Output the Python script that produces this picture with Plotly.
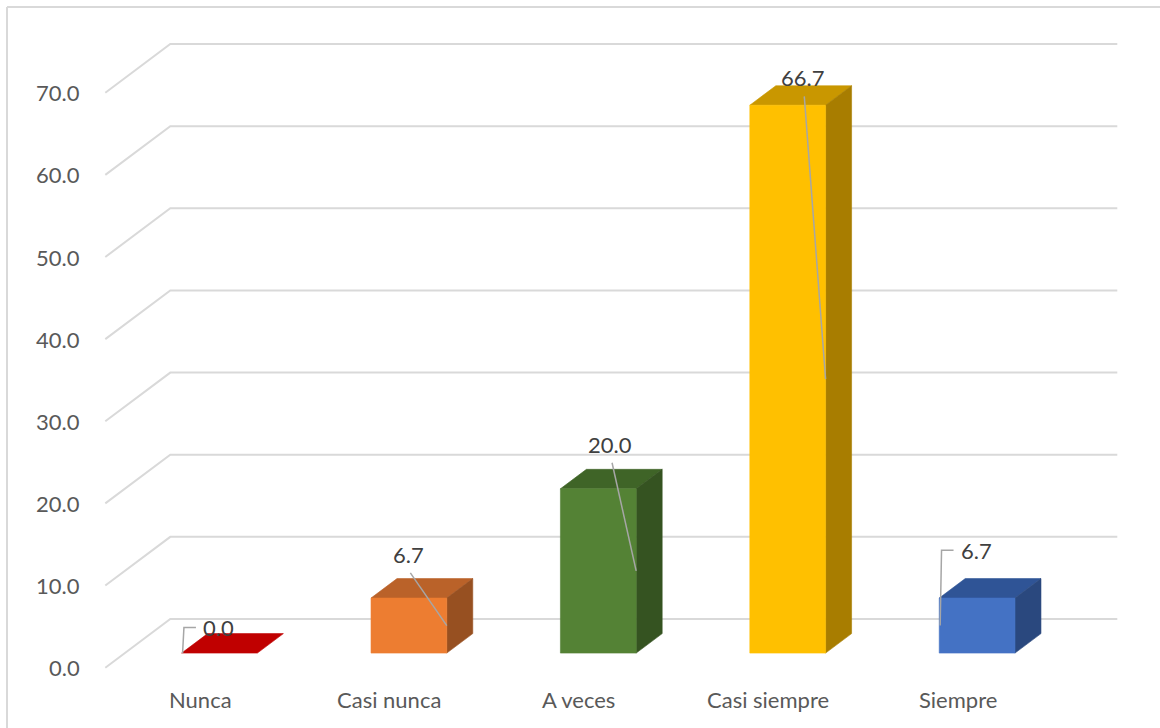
import plotly.graph_objects as go

# Survey answers (percent of respondents)
categories = ["Nunca", "Casi nunca", "A veces", "Casi siempre", "Siempre"]
values = [0.0, 6.7, 20.0, 66.7, 6.7]
y_ticks = [0, 10, 20, 30, 40, 50, 60, 70]

# Face colours per bar: front, top, side
front_colors = ["#C00000", "#ED7D31", "#548235", "#FFC000", "#4472C4"]
top_colors = ["#C00000", "#BA6229", "#3F6427", "#C99700", "#2F5496"]
side_colors = ["#A00000", "#975021", "#355321", "#A87D00", "#2A487E"]

# Label placement tweaks (data units) and which edge the leader line goes to
label_dx = [0.10, 0.10, 0.165, 0.18, 0.10]
label_dy = [4.9, 7.1, 7.2, 5.1, 7.6]
leader_side = ["left", "right", "right", "right", "left"]

# Pixel scale of the axes (figure is the plot area)
W, H = 1160, 728
PX_X = 189.4          # pixels per category
PX_Y = 8.214          # pixels per value unit
X0_PX, Y0_PX = 200.0, 667.7
x_range = [-X0_PX / PX_X, (W - X0_PX) / PX_X]
y_range = [(Y0_PX - H) / PX_Y, Y0_PX / PX_Y]

# Perspective depth of the box
DX = 65 / PX_X
DY = 48.7 / PX_Y
BAR_FRONT = 0.3       # bar front face position along depth
BAR_DEPTH = 0.4       # bar thickness along depth
HALF_W = 0.2          # half of bar width in category units

GRID = "#D9D9D9"
TEXT = "#595959"
FONT = "Lato"
FS = 22

fig = go.Figure()

# Walls: diagonals on the side wall and horizontals on the back wall
for t in y_ticks:
    fig.add_trace(go.Scatter(
        x=[-0.5, -0.5 + DX, len(categories) - 0.5 + DX],
        y=[t, t + DY, t + DY],
        mode="lines", line=dict(color=GRID, width=2),
        hoverinfo="skip", showlegend=False))


def poly(xs, ys, color):
    fig.add_trace(go.Scatter(
        x=xs + [xs[0]], y=ys + [ys[0]], mode="lines", fill="toself",
        fillcolor=color, line=dict(color=color, width=0.6),
        hoverinfo="skip", showlegend=False))


for i, v in enumerate(values):
    cx = i + BAR_FRONT * DX
    xl, xr = cx - HALF_W, cx + HALF_W
    yb = BAR_FRONT * DY
    yt = yb + v
    ddx, ddy = BAR_DEPTH * DX, BAR_DEPTH * DY
    # top face
    poly([xl, xr, xr + ddx, xl + ddx], [yt, yt, yt + ddy, yt + ddy], top_colors[i])
    if v > 0:
        # side face
        poly([xr, xr + ddx, xr + ddx, xr], [yb, yb + ddy, yt + ddy, yt], side_colors[i])
        # front face
        poly([xl, xr, xr, xl], [yb, yb, yt, yt], front_colors[i])

    # data label with leader line
    lx, ly = i + label_dx[i], v + label_dy[i]
    anchor_y = yb + v / 2
    if leader_side[i] == "left":
        tick_end = lx - 23 / PX_X
        tick_start = lx - 35 / PX_X
        fig.add_trace(go.Scatter(
            x=[tick_end, tick_start, xl + 0.005], y=[ly, ly, anchor_y],
            mode="lines", line=dict(color="#A6A6A6", width=1.5),
            hoverinfo="skip", showlegend=False))
    else:
        fig.add_trace(go.Scatter(
            x=[lx + 2 / PX_X, xr], y=[ly - 18.5 / PX_Y, anchor_y],
            mode="lines", line=dict(color="#A6A6A6", width=1.5),
            hoverinfo="skip", showlegend=False))
    fig.add_annotation(x=lx, y=ly, text=f"{v:.1f}", showarrow=False,
                       xanchor="center", yanchor="middle",
                       font=dict(family=FONT, size=FS, color="#404040"))

# Value axis labels at the front of the side wall
for t in y_ticks:
    fig.add_annotation(x=-0.5 - 23 / PX_X, y=t, text=f"{t:.1f}", showarrow=False,
                       xanchor="right", yanchor="middle",
                       font=dict(family=FONT, size=FS, color=TEXT))

# Category labels below the floor
for i, c in enumerate(categories):
    fig.add_annotation(x=i, y=(Y0_PX - 699) / PX_Y, text=c, showarrow=False,
                       xanchor="center", yanchor="middle",
                       font=dict(family=FONT, size=FS, color=TEXT))

# Chart frame
fig.add_shape(type="line", xref="paper", yref="paper", x0=7 / W, x1=1.0,
              y0=1 - 7 / H, y1=1 - 7 / H, line=dict(color=GRID, width=2))
fig.add_shape(type="line", xref="paper", yref="paper", x0=7 / W, x1=7 / W,
              y0=0, y1=1 - 7 / H, line=dict(color=GRID, width=2))

fig.update_layout(
    width=W, height=H, margin=dict(l=0, r=0, t=0, b=0),
    paper_bgcolor="white", plot_bgcolor="white",
    xaxis=dict(range=x_range, visible=False, fixedrange=True),
    yaxis=dict(range=y_range, visible=False, fixedrange=True),
    showlegend=False,
)

fig.write_html("out.html")
